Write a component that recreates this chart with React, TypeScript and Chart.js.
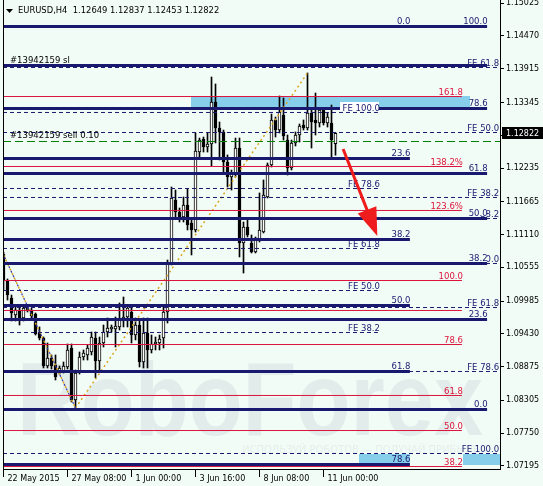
import React, { useEffect, useRef } from "react";
import { Chart, registerables } from "chart.js";

Chart.register(...registerables);

// ---- instrument / axes ----
const SYMBOL = "EURUSD,H4";
const timeLabels = ["22 May 2015", "27 May 08:00", "1 Jun 00:00", "3 Jun 16:00", "8 Jun 08:00", "11 Jun 00:00"];
const timeLabelBars = [0, 16, 32, 48, 64, 80];
const priceTicks = [1.15025, 1.1447, 1.13915, 1.13345, 1.1279, 1.12235, 1.11665, 1.1111, 1.10555, 1.09985, 1.0943, 1.08875, 1.08305, 1.0775, 1.07195];
const PRICE_MIN = 1.07144;
const PRICE_MAX = 1.15079;
const BAR_MIN = -0.125;
const BAR_MAX = 124.125;

// ---- H4 candles ----
const opens = [
  1.10782, 1.10325, 1.10037, 1.0975, 1.09834, 1.09699, 1.09834, 1.09834, 1.09767, 1.09445,
  1.09361, 1.08887, 1.09022, 1.08904, 1.08768, 1.08785, 1.0887, 1.09191, 1.08312, 1.08785,
  1.09039, 1.09073, 1.09124, 1.09361, 1.08971, 1.09276, 1.09462, 1.09513, 1.09513, 1.09547,
  1.09648, 1.09716, 1.098, 1.09411, 1.0958, 1.08955, 1.09445, 1.09158, 1.09259, 1.09276,
  1.09361, 1.098, 1.10629, 1.11695, 1.11492, 1.11408, 1.11611, 1.11306, 1.11188, 1.12507,
  1.12727, 1.12592, 1.12643, 1.13353, 1.12913, 1.12846, 1.12338, 1.12084, 1.12152, 1.12575,
  1.10968, 1.11238, 1.10968, 1.10815, 1.11019, 1.11154, 1.11746, 1.12287, 1.13049, 1.12879,
  1.13133, 1.1271, 1.12237, 1.1266, 1.12795, 1.12964, 1.12913, 1.13167, 1.13049, 1.12998,
  1.13218, 1.12998, 1.12998, 1.12649,
];
const highs = [
  1.10815, 1.10359, 1.10088, 1.09919, 1.09919, 1.09919, 1.09919, 1.09868, 1.09784, 1.09547,
  1.09378, 1.09276, 1.09073, 1.09073, 1.08887, 1.08955, 1.09259, 1.09259, 1.08819, 1.09124,
  1.09158, 1.09242, 1.09462, 1.09462, 1.09377, 1.0958, 1.09699, 1.0958, 1.09716, 1.09953,
  1.10054, 1.09919, 1.09885, 1.09699, 1.09665, 1.09699, 1.09699, 1.09411, 1.09377, 1.09411,
  1.09885, 1.1068, 1.11915, 1.11864, 1.1156, 1.11746, 1.11881, 1.11391, 1.12829, 1.12744,
  1.12761, 1.12829, 1.13776, 1.13658, 1.13015, 1.12879, 1.12457, 1.12203, 1.12744, 1.12744,
  1.11323, 1.11357, 1.11103, 1.11069, 1.11814, 1.12034, 1.12321, 1.1315, 1.13099, 1.13455,
  1.13421, 1.12795, 1.1271, 1.12846, 1.12981, 1.13049, 1.13844, 1.13252, 1.13505, 1.13252,
  1.13252, 1.13167, 1.13302, 1.12837,
];
const lows = [
  1.10173, 1.10003, 1.09648, 1.09648, 1.0958, 1.09648, 1.098, 1.09699, 1.09411, 1.09327,
  1.08853, 1.08853, 1.08836, 1.0865, 1.08751, 1.08768, 1.08836, 1.08278, 1.08176, 1.08751,
  1.08988, 1.08988, 1.09073, 1.08684, 1.08785, 1.09208, 1.09377, 1.09462, 1.09208, 1.09496,
  1.09547, 1.09547, 1.09276, 1.09327, 1.0887, 1.08853, 1.08853, 1.09107, 1.09158, 1.09158,
  1.09191, 1.09614, 1.10596, 1.11408, 1.11323, 1.11323, 1.11188, 1.10765, 1.11154, 1.12406,
  1.12507, 1.12507, 1.1227, 1.1266, 1.12372, 1.12169, 1.11915, 1.11864, 1.12084, 1.10731,
  1.1046, 1.11069, 1.10799, 1.10799, 1.10985, 1.11137, 1.11729, 1.12254, 1.12761, 1.12829,
  1.1271, 1.12118, 1.12203, 1.12609, 1.12676, 1.12879, 1.12879, 1.12575, 1.12795, 1.1293,
  1.12964, 1.1293, 1.12406, 1.12453,
];
const closes = [
  1.10325, 1.10088, 1.09784, 1.09834, 1.09699, 1.09868, 1.09868, 1.09733, 1.09428, 1.09361,
  1.08887, 1.09022, 1.08887, 1.08701, 1.08853, 1.08887, 1.09158, 1.08312, 1.08768, 1.09039,
  1.09107, 1.09191, 1.09377, 1.08971, 1.09276, 1.09462, 1.0953, 1.09547, 1.09564, 1.09665,
  1.09716, 1.09868, 1.09411, 1.0958, 1.08955, 1.09445, 1.09158, 1.09259, 1.09293, 1.09344,
  1.098, 1.10629, 1.11729, 1.11492, 1.11408, 1.11611, 1.11272, 1.11188, 1.12524, 1.1271,
  1.12592, 1.12643, 1.13353, 1.12913, 1.12846, 1.12338, 1.12084, 1.12152, 1.12575, 1.10968,
  1.11238, 1.11103, 1.10815, 1.11052, 1.11188, 1.1178, 1.12287, 1.13049, 1.12879, 1.13184,
  1.12778, 1.12237, 1.1266, 1.12795, 1.12947, 1.12913, 1.13167, 1.13015, 1.12998, 1.13218,
  1.12998, 1.13099, 1.1271, 1.12822,
];

// ---- Fibonacci retracement levels (thick) ----
const fiboPrices = [1.14631, 1.14631, 1.13971, 1.13243, 1.12397, 1.12144, 1.11382, 1.11027, 1.10621, 1.0991, 1.09673, 1.08794, 1.08151, 1.0722];
const fiboEndBars = [101.6, 120.9, 120.9, 120.9, 101.6, 120.9, 120.9, 101.6, 120.9, 101.6, 120.9, 101.6, 120.9, 101.6];
const fiboTexts = ["0.0", "100.0", "", "78.6", "23.6", "61.8", "50.0", "38.2", "38.2", "50.0", "23.6", "61.8", "0.0", "78.6"];
// captions painted over the neighbouring expansion caption
const fiboOpaque = [false, false, false, false, false, false, true, false, true, false, false, false, false, false];

// ---- target levels (thin red) ----
const targetPrices = [1.13446, 1.12262, 1.11518, 1.10333, 1.09826, 1.0925, 1.08388, 1.07795, 1.07186];
const targetTexts = ["161.8", "138.2%", "123.6%", "100.0", "", "78.6", "61.8", "50.0", "38.2"];
const targetEndBar = 114.6;

// ---- Fibonacci expansion levels (dashed) ----
const fePrices = [1.13937, 1.13176, 1.12837, 1.1189, 1.11738, 1.11382, 1.10875, 1.10621, 1.10164, 1.09876, 1.09453, 1.08794, 1.07406];
const feEndBars = [123.4, 93.6, 123.4, 93.6, 123.4, 123.4, 93.6, 123.4, 93.6, 123.4, 93.6, 123.4, 123.4];
const feTexts = ["FE 61.8", "FE 100.0", "FE 50.0", "FE 78.6", "FE 38.2", "38.2", "FE 61.8", "0.0", "FE 50.0", "FE 61.8", "FE 38.2", "FE 78.6", "FE 100.0"];
const feBoxed = [false, true, false, false, false, false, false, false, false, false, false, false, false];

// ---- open order ----
const orderTicket = "#13942159";
const orderOpenPrice = 1.12685;
const orderSlPrice = 1.13971;
const orderLots = "0.10";

// ---- zones, trend lines, arrow ----
const zoneBars = [[46.9, 116.6], [88.9, 101.6], [114.9, 124.2]];
const zonePrices = [[1.13218, 1.13455], [1.07212, 1.07398], [1.07212, 1.07398]];
const swingDown = [[0, 1.10765], [18, 1.08176]];
const swingUp = [[18, 1.08176], [76, 1.13844]];
const arrowFrom = [84.9, 1.12558];
const arrowTo = [93.45, 1.11086];

const BG = "#F2FCF6";
const NAVY = "#191970";
const CRIMSON = "#DC143C";
const FONT = "'DejaVu Sans', sans-serif";

const fmt = (v: number) => v.toFixed(5);

export default function App() {
  const ref = useRef<HTMLCanvasElement>(null);

  useEffect(() => {
    document.body.style.margin = "0";
    document.body.style.background = BG;
    const canvas = ref.current!;
    const idx = opens.map((_, i) => i);
    const last = opens.length - 1;

    const levelLine = (price: number, end: number, text: string, color: string, width: number, dash: number[], textColor: string, boxed = "", shift = 1) => ({
      type: "line" as const,
      data: [{ x: BAR_MIN, y: price }, { x: end, y: price }],
      borderColor: color,
      borderWidth: width,
      borderDash: dash,
      pointRadius: 0,
      tension: 0,
      order: 0,
      levelText: text,
      levelColor: textColor,
      levelBox: boxed,
      levelShift: shift,
    });

    const datasets: any[] = [
      {
        type: "bar",
        data: idx.map((i) => ({ x: i, y: [lows[i], highs[i]] })),
        backgroundColor: "#000000",
        borderWidth: 0,
        barThickness: 1,
        grouped: false,
        order: 3,
      },
      {
        type: "bar",
        data: idx.map((i) => ({ x: i, y: [opens[i], closes[i]] })),
        backgroundColor: idx.map((i) => (closes[i] >= opens[i] ? "#FFFFFF" : "#000000")),
        borderColor: "#000000",
        borderWidth: 1,
        borderSkipped: false,
        barThickness: 3,
        grouped: false,
        order: 2,
      },
      {
        type: "line",
        data: swingDown.map(([x, y]) => ({ x, y })),
        borderColor: "#DAA520",
        borderWidth: 1.5,
        borderDash: [2, 3],
        pointRadius: 0,
        order: 1,
      },
      {
        type: "line",
        data: swingDown.map(([x, y]) => ({ x, y })),
        borderColor: "#3A3AA8",
        borderWidth: 1.2,
        borderDash: [2, 3],
        borderDashOffset: 2.5,
        pointRadius: 0,
        order: 1,
      },
      {
        type: "line",
        data: swingUp.map(([x, y]) => ({ x, y })),
        borderColor: "#DAA520",
        borderWidth: 1.5,
        borderDash: [2, 3],
        pointRadius: 0,
        order: 1,
      },
      {
        type: "line",
        data: [{ x: BAR_MIN, y: orderOpenPrice }, { x: BAR_MAX, y: orderOpenPrice }],
        borderColor: "#008000",
        borderWidth: 1,
        borderDash: [8, 4],
        pointRadius: 0,
        order: 0,
      },
    ];
    fePrices.forEach((p, i) => datasets.push(levelLine(p, feEndBars[i], feTexts[i], NAVY, 1, [4, 3], NAVY, feBoxed[i] ? "#FFFFFF" : "", 2)));
    targetPrices.forEach((p, i) => datasets.push(levelLine(p, targetEndBar, targetTexts[i], CRIMSON, 1, [], CRIMSON)));
    fiboPrices.forEach((p, i) => datasets.push(levelLine(p, fiboEndBars[i], fiboTexts[i], NAVY, 3, [], NAVY, fiboOpaque[i] ? BG : "", 0.5)));

    const decor = {
      id: "terminalDecor",
      beforeDraw(chart: any) {
        const { ctx, width, height } = chart;
        ctx.save();
        ctx.fillStyle = BG;
        ctx.fillRect(0, 0, width, height);
        ctx.restore();
      },
      beforeDatasetsDraw(chart: any) {
        const { ctx, chartArea } = chart;
        const xs = chart.scales.x;
        const ys = chart.scales.y;
        ctx.save();
        ctx.beginPath();
        ctx.rect(chartArea.left, chartArea.top, chartArea.right - chartArea.left, chartArea.bottom - chartArea.top);
        ctx.clip();
        // watermark
        ctx.fillStyle = "#E2ECEB";
        ctx.font = `bold 103px 'Liberation Sans', sans-serif`;
        ctx.textBaseline = "alphabetic";
        ctx.textAlign = "left";
        const wm = "RoboForex";
        const w = ctx.measureText(wm).width;
        ctx.save();
        ctx.translate(17, 435);
        ctx.scale(466 / w, 1);
        ctx.fillText(wm, 0, 0);
        ctx.restore();
        ctx.fillStyle = "#E6EEED";
        ctx.font = `10px ${FONT}`;
        ctx.fillText("ИСПОЛЬЗУЙ РОБОТОВ — ПОЛУЧАЙ ПРИБЫЛЬ", 242, 453);
        // zones
        ctx.fillStyle = "#87CEEB";
        zoneBars.forEach(([b0, b1], i) => {
          const x0 = Math.round(xs.getPixelForValue(b0));
          const x1 = Math.round(xs.getPixelForValue(b1));
          const y0 = Math.round(ys.getPixelForValue(zonePrices[i][1]));
          const y1 = Math.round(ys.getPixelForValue(zonePrices[i][0]));
          ctx.fillRect(x0, y0, x1 - x0, y1 - y0);
        });
        ctx.restore();
      },
      afterDatasetsDraw(chart: any) {
        const { ctx, chartArea } = chart;
        const xs = chart.scales.x;
        const ys = chart.scales.y;
        ctx.save();
        // level captions
        ctx.font = `8.5px ${FONT}`;
        ctx.textAlign = "right";
        ctx.textBaseline = "alphabetic";
        chart.data.datasets.forEach((ds: any) => {
          if (!ds.levelText) return;
          const x = xs.getPixelForValue(ds.data[1].x) + ds.levelShift;
          const y = ys.getPixelForValue(ds.data[1].y);
          const by = Math.round(y - ds.borderWidth / 2 - 1);
          if (ds.levelBox) {
            const tw = ctx.measureText(ds.levelText).width;
            ctx.fillStyle = ds.levelBox;
            ctx.fillRect(Math.round(x - tw - 3), by - 9, Math.round(tw + 2), 9);
          }
          ctx.fillStyle = ds.levelColor;
          ctx.fillText(ds.levelText, x, by);
        });
        // order captions
        ctx.textAlign = "left";
        ctx.fillStyle = "#000000";
        ctx.fillText(`${orderTicket} sl`, 10, Math.round(ys.getPixelForValue(orderSlPrice) - 2));
        ctx.fillText(`${orderTicket} sell ${orderLots}`, 10, Math.round(ys.getPixelForValue(orderOpenPrice) - 3));
        // arrow
        const ax0 = xs.getPixelForValue(arrowFrom[0]);
        const ay0 = ys.getPixelForValue(arrowFrom[1]);
        const ax1 = xs.getPixelForValue(arrowTo[0]);
        const ay1 = ys.getPixelForValue(arrowTo[1]);
        const ang = Math.atan2(ay1 - ay0, ax1 - ax0);
        const headLen = 28;
        const headHalf = 10;
        const bx = ax1 - headLen * Math.cos(ang);
        const byy = ay1 - headLen * Math.sin(ang);
        ctx.strokeStyle = "#EE1C1C";
        ctx.fillStyle = "#EE1C1C";
        ctx.lineWidth = 3;
        ctx.beginPath();
        ctx.moveTo(ax0, ay0);
        ctx.lineTo(bx + 4 * Math.cos(ang), byy + 4 * Math.sin(ang));
        ctx.stroke();
        ctx.beginPath();
        ctx.moveTo(ax1, ay1);
        ctx.lineTo(bx + headHalf * Math.sin(ang), byy - headHalf * Math.cos(ang));
        ctx.lineTo(bx - headHalf * Math.sin(ang), byy + headHalf * Math.cos(ang));
        ctx.closePath();
        ctx.fill();
        // frame
        ctx.strokeStyle = "#000000";
        ctx.lineWidth = 1;
        ctx.beginPath();
        ctx.moveTo(chartArea.left + 0.5, chartArea.top);
        ctx.lineTo(chartArea.left + 0.5, chartArea.bottom);
        ctx.stroke();
        // title
        ctx.fillStyle = "#000000";
        ctx.beginPath();
        ctx.moveTo(6, 9);
        ctx.lineTo(13, 9);
        ctx.lineTo(9.5, 13);
        ctx.closePath();
        ctx.fill();
        ctx.font = `8.4px ${FONT}`;
        ctx.textBaseline = "middle";
        ctx.fillText(`${SYMBOL}  ${fmt(opens[last])} ${fmt(highs[last])} ${fmt(lows[last])} ${fmt(closes[last])}`, 18, 11);
        ctx.restore();
      },
      afterDraw(chart: any) {
        const { ctx, chartArea, width } = chart;
        const ys = chart.scales.y;
        const y = Math.round(ys.getPixelForValue(closes[last]));
        ctx.save();
        ctx.fillStyle = "#000000";
        ctx.fillRect(chartArea.right + 2, y - 6, width - chartArea.right - 2, 12);
        ctx.fillStyle = "#FFFFFF";
        ctx.font = `8px ${FONT}`;
        ctx.textAlign = "left";
        ctx.textBaseline = "middle";
        ctx.fillText(fmt(closes[last]), chartArea.right + 6, y + 0.5);
        ctx.restore();
      },
    };

    const chart = new Chart(canvas, {
      type: "bar",
      data: { datasets },
      options: {
        animation: false,
        responsive: false,
        devicePixelRatio: 1,
        layout: { padding: { left: 3, top: 0, right: 0, bottom: 0 } },
        plugins: { legend: { display: false }, tooltip: { enabled: false } },
        scales: {
          x: {
            type: "linear",
            min: BAR_MIN,
            max: BAR_MAX,
            offset: false,
            grid: { drawOnChartArea: false, drawTicks: true, tickLength: 8, color: "#000000", offset: false },
            border: { display: true, color: "#000000", width: 1 },
            ticks: {
              autoSkip: false,
              maxRotation: 0,
              align: "start",
              labelOffset: 4,
              padding: -3,
              color: "#000000",
              font: { family: "DejaVu Sans", size: 8 },
              callback: (v: any) => timeLabels[timeLabelBars.indexOf(Number(v))] ?? "",
            },
            afterBuildTicks: (s: any) => {
              s.ticks = timeLabelBars.map((v) => ({ value: v }));
            },
            afterFit: (s: any) => {
              s.height = 17;
              s.paddingLeft = 0;
              s.paddingRight = 0;
            },
          },
          y: {
            type: "linear",
            position: "right",
            min: PRICE_MIN,
            max: PRICE_MAX,
            grid: { drawOnChartArea: false, drawTicks: true, tickLength: 4, color: "#000000" },
            border: { display: true, color: "#000000", width: 1 },
            ticks: {
              padding: 2,
              color: "#000000",
              font: { family: "DejaVu Sans", size: 8 },
              callback: (v: any) => Number(v).toFixed(5),
            },
            afterBuildTicks: (s: any) => {
              s.ticks = priceTicks.map((v) => ({ value: v }));
            },
            afterFit: (s: any) => {
              s.width = 43;
              s.paddingTop = 0;
              s.paddingBottom = 0;
            },
          },
        },
      } as any,
      plugins: [decor],
    });
    return () => chart.destroy();
  }, []);

  return (
    <div style={{ width: 543, height: 486 }}>
      <canvas ref={ref} width={543} height={486} style={{ display: "block", width: 543, height: 486 }} />
    </div>
  );
}
